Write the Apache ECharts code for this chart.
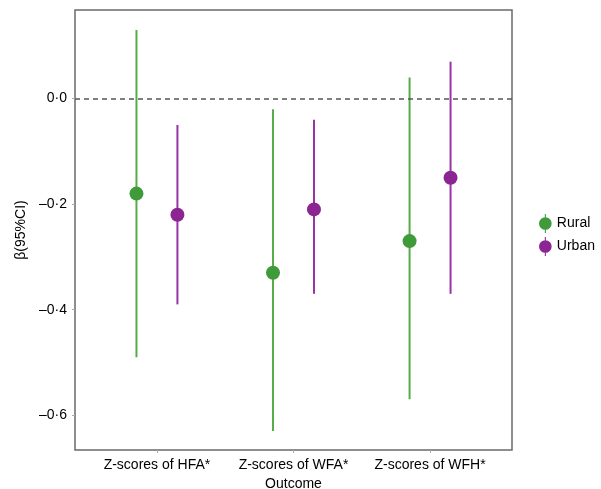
<!DOCTYPE html>
<html>
<head>
<meta charset="UTF-8">
<title>beta 95% CI</title>
<script src="https://cdn.jsdelivr.net/npm/echarts@6/dist/echarts.min.js"></script>
<style>
  html, body { margin: 0; padding: 0; background: #fff; }
  #main { width: 601px; height: 489px; }
</style>
</head>
<body>
<div id="main"></div>
<script type="text/javascript">
// outcomes on x axis
var outcomes = ['Z-scores of HFA*', 'Z-scores of WFA*', 'Z-scores of WFH*'];
// rural estimates and 95% CI
var ruralBeta = [-0.18, -0.33, -0.27];
var ruralLow = [-0.49, -0.63, -0.57];
var ruralHigh = [0.13, -0.02, 0.04];
// urban estimates and 95% CI
var urbanBeta = [-0.22, -0.21, -0.15];
var urbanLow = [-0.39, -0.37, -0.37];
var urbanHigh = [-0.05, -0.04, 0.07];
var yTicks = [0, -0.2, -0.4, -0.6];

var dodge = 0.15;
var font = 'Liberation Sans, Arial, sans-serif';
// pointrange glyph for the legend: dot with a line through it
var glyph = 'path://M0.5,10 a6,6 0 1,1 12,0 a6,6 0 1,1 -12,0 Z M6,1 h1 v18 h-1 Z';

function pts(beta, off) {
  return beta.map(function (v, i) { return [i + 1 + off, v]; });
}
function bars(low, high, off) {
  return low.map(function (v, i) { return [i + 1 + off, v, high[i]]; });
}
function errRender(params, api) {
  var a = api.coord([api.value(0), api.value(1)]);
  var b = api.coord([api.value(0), api.value(2)]);
  return {
    type: 'line',
    shape: { x1: a[0], y1: a[1], x2: b[0], y2: b[1] },
    style: { stroke: api.visual('color'), lineWidth: 2 }
  };
}

var myChart = echarts.init(document.getElementById('main'));
var option = {
  animation: false,
  textStyle: { fontFamily: font },
  grid: {
    left: 75, top: 10, right: 89, bottom: 39,
    outerBoundsMode: 'none', containLabel: false,
    show: true, borderColor: '#6a6a6a', borderWidth: 1.5, backgroundColor: '#fff'
  },
  legend: {
    data: [
      { name: 'Rural', icon: glyph, itemStyle: { color: '#3f9a3a' } },
      { name: 'Urban', icon: glyph, itemStyle: { color: '#8b2592' } }
    ],
    orient: 'vertical',
    left: 534, top: 209,
    itemWidth: 13, itemHeight: 19, itemGap: 4,
    textStyle: { fontSize: 14, color: '#000', fontFamily: font }
  },
  xAxis: {
    type: 'value', min: 0.4, max: 3.6,
    name: 'Outcome', nameLocation: 'middle', nameGap: 22,
    nameTextStyle: { fontSize: 14, color: '#000' },
    axisLine: { show: false, onZero: false },
    splitLine: { show: false },
    axisTick: { show: true, customValues: [1, 2, 3], length: 3, lineStyle: { color: '#aaa' } },
    axisLabel: {
      customValues: [1, 2, 3], fontSize: 14, color: '#000', margin: 8,
      formatter: function (v) { return outcomes[Math.round(v) - 1]; }
    }
  },
  yAxis: {
    type: 'value', min: -0.666, max: 0.168,
    name: 'β(95%CI)', nameLocation: 'middle', nameGap: 44, nameRotate: 90,
    nameTextStyle: { fontSize: 14, color: '#000' },
    axisLine: { show: false, onZero: false },
    splitLine: { show: false },
    axisTick: { show: true, customValues: yTicks, length: 3, lineStyle: { color: '#aaa' } },
    axisLabel: {
      customValues: yTicks, fontSize: 14, color: '#000', margin: 8,
      formatter: function (v) {
        return v.toFixed(1).replace('.', '·').replace('-', '–');
      }
    }
  },
  series: [
    {
      name: 'Rural', type: 'custom', renderItem: errRender,
      itemStyle: { color: '#56ad48' },
      data: bars(ruralLow, ruralHigh, -dodge), z: 2,
      markLine: {
        silent: true, symbol: 'none', label: { show: false },
        lineStyle: { color: '#555', type: [5, 4], width: 1.6 },
        data: [{ yAxis: 0 }]
      }
    },
    {
      name: 'Urban', type: 'custom', renderItem: errRender,
      itemStyle: { color: '#9a33a6' },
      data: bars(urbanLow, urbanHigh, dodge), z: 2
    },
    {
      name: 'Rural', type: 'scatter', symbol: 'circle', symbolSize: 14,
      itemStyle: { color: '#3f9a3a', opacity: 1 },
      data: pts(ruralBeta, -dodge), z: 3
    },
    {
      name: 'Urban', type: 'scatter', symbol: 'circle', symbolSize: 14,
      itemStyle: { color: '#8b2592', opacity: 1 },
      data: pts(urbanBeta, dodge), z: 3
    }
  ]
};
myChart.setOption(option);
</script>
</body>
</html>
